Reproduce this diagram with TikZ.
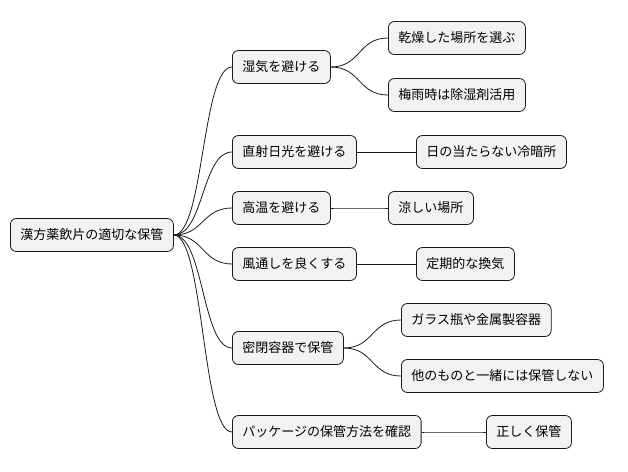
\documentclass[tikz,border=0pt]{standalone}
\usepackage{fontspec}
\setmainfont{Noto Sans CJK JP}
\begin{document}
\begin{tikzpicture}[x=1pt,y=-1pt,
  box/.style={draw=black!90,fill=black!5,rounded corners=6pt,line width=0.8pt,minimum height=33pt,inner xsep=10pt,anchor=west,font=\fontsize{13pt}{15pt}\selectfont},
  ln/.style={line width=0.8pt,black!90}]
\useasboundingbox (0,0) rectangle (628,471);
\node[box] (r) at (10,235) {漢方薬飲片の適切な保管};
\node[box] (a) at (232,67) {湿気を避ける};
\node[box] (a1) at (388,38) {乾燥した場所を選ぶ};
\node[box] (a2) at (388,95) {梅雨時は除湿剤活用};
\node[box] (b) at (232,152) {直射日光を避ける};
\node[box] (b1) at (416,152) {日の当たらない冷暗所};
\node[box] (c) at (232,208) {高温を避ける};
\node[box] (c1) at (388,208) {涼しい場所};
\node[box] (d) at (232,264) {風通しを良くする};
\node[box] (d1) at (416,264) {定期的な換気};
\node[box] (e) at (232,348) {密閉容器で保管};
\node[box] (e1) at (401,320) {ガラス瓶や金属製容器};
\node[box] (e2) at (401,376) {他のものと一緒には保管しない};
\node[box] (f) at (232,432) {パッケージの保管方法を確認};
\node[box] (f1) at (486,432) {正しく保管};
\foreach \p/\c in {r/a,r/b,r/c,r/d,r/e,r/f,a/a1,a/a2,b/b1,c/c1,d/d1,e/e1,e/e2,f/f1}
  \draw[ln] (\p.east) .. controls ([xshift=30pt]\p.east) and ([xshift=-30pt]\c.west) .. (\c.west);
\end{tikzpicture}
\end{document}
